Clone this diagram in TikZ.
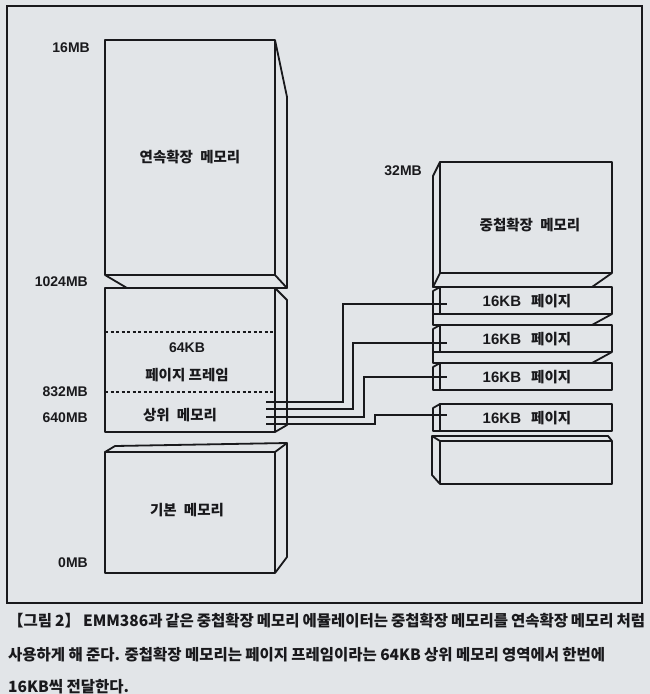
\documentclass[tikz,border=0pt]{standalone}
\usepackage{fontspec}
\setmainfont{Noto Sans CJK KR}
\newfontfamily\lat{Liberation Sans}

\definecolor{paper}{RGB}{226,229,232}
\definecolor{ink}{RGB}{25,25,28}

\tikzset{
    box/.style={draw=ink, line width=1.8pt, line join=round},
    wire/.style={draw=ink, line width=1.6pt},
    lbl/.style={text=ink, font=\bfseries\fontsize{14.5}{16}\selectfont, inner sep=0pt},
    mb/.style={text=ink, font=\lat\bfseries\fontsize{14}{16}\selectfont, inner sep=0pt, anchor=east},
    captxt/.style={text=ink, anchor=west, inner sep=0pt, font=\bfseries\fontsize{15.5}{17}\selectfont},
}

\begin{document}
\begin{tikzpicture}[x=1pt, y=-1pt]
    % Paper and frame
    \useasboundingbox[fill=paper] (0,0) rectangle (650,694);
    \draw[ink, line width=1.6pt] (7,6) rectangle (642,603);

    % Extended memory
    \draw[box] (105,40) rectangle (275,275);
    \draw[box] (275,40) -- (287,97) -- (287,288) -- (275,275);
    \draw[box] (105,275) -- (127,288) -- (287,288);
    \node[lbl] (ems) at (190,157) {연속확장\enspace 메모리};

    % Upper memory with page frame
    \draw[box] (105,288) rectangle (275,432);
    \draw[box] (275,288) -- (287,300) -- (287,425) -- (275,432);
    \draw[box, line width=1.3pt, dash pattern=on 3pt off 2.5pt] (105,332) -- (275,332) (105,392) -- (275,392);
    \node[lbl, font=\lat\bfseries\fontsize{14}{16}\selectfont] (frame) at (187,348) {64KB};
    \node[lbl] (frametxt) at (187,375) {페이지 프레임};
    \node[lbl] (umb) at (180,415) {상위\enspace 메모리};

    % Base memory
    \draw[box] (105,452) rectangle (275,573);
    \draw[box] (105,452) -- (115,446) -- (287,443) -- (275,452);
    \draw[box] (287,443) -- (287,557) -- (275,573);
    \node[lbl] (base) at (187,510) {기본\enspace 메모리};

    % Address labels
    \node[mb] (m16) at (90,48) {16MB};
    \node[mb] (m1024) at (88,282) {1024MB};
    \node[mb] (m832) at (88,392) {832MB};
    \node[mb] (m640) at (88,418) {640MB};
    \node[mb] (m0) at (88,563) {0MB};
    \node[mb] (m32) at (422,171) {32MB};

    % Expanded memory
    \draw[box] (440,162) rectangle (612,273);
    \draw[box] (440,162) -- (433,176) -- (433,287);
    \draw[box] (440,273) -- (433,287) -- (592,287) -- (612,273);
    \node[lbl] (xms) at (530,225) {중첩확장\enspace 메모리};

    % 16KB pages
    \foreach \t/\n/\w in {287/1/304, 325/2/343, 363/3/377, 404/4/415} {
        \draw[box] (440,\t) rectangle (612,\t+27);
        \draw[box] (440,\t) -- (433,\t+4) -- (433,\t+27) -- (440,\t+27);
        \node[lbl] (page\n) at (527,\t+14) {{\lat\bfseries\fontsize{15}{16}\selectfont 16KB}\hspace{0.7em}페이지};
        \coordinate (pg\n) at (447,\w);
    }
    \foreach \t in {287,325}
        \draw[box] (612,\t+27) -- (592,\t+38) -- (433,\t+38) -- (433,\t+27);

    % Empty page below
    \draw[box] (440,441) rectangle (612,484);
    \draw[box] (440,441) -- (432,436) -- (608,436) -- (612,441);
    \draw[box] (432,436) -- (432,475) -- (440,484);

    % Page frame to pages
    \foreach \n/\u/\x/\w in {1/402/343/304, 2/409/353/343, 3/417/364/377, 4/424/375/415} {
        \coordinate (um\n) at (266,\u);
        \draw[wire] (um\n) -| (\x,\w) -- (pg\n);
    }

    % Caption
    \node[captxt] (cap1) at (8,621)
        {\makebox[637pt][s]{【그림 2】 EMM386과 같은 중첩확장 메모리 에뮬레이터는 중첩확장 메모리를 연속확장 메모리 처럼}};
    \node[captxt] (cap2) at (8,655)
        {\makebox[597pt][s]{사용하게 해 준다. 중첩확장 메모리는 페이지 프레임이라는 64KB 상위 메모리 영역에서 한번에}};
    \node[captxt] (cap3) at (8,687)
        {16KB씩 전달한다.};
\end{tikzpicture}
\end{document}
